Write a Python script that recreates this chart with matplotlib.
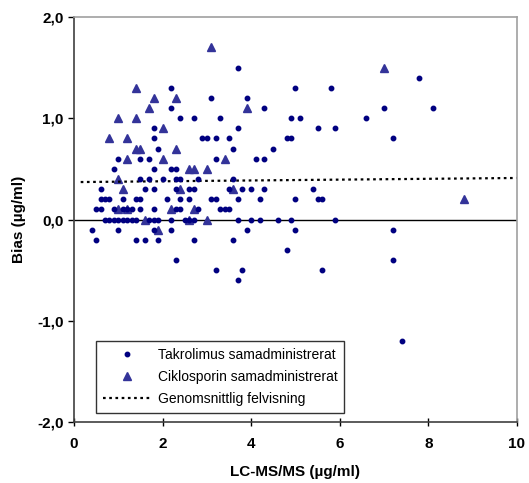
import matplotlib.pyplot as plt
import numpy as np
from matplotlib.ticker import FuncFormatter

plt.rcParams['font.family'] = ['Liberation Sans', 'DejaVu Sans']

# Takrolimus samadministrerat (LC-MS/MS, bias)
tak_x = [0.4, 0.5, 0.5, 0.6, 0.6, 0.6, 0.7, 0.7, 0.8, 0.8, 0.9, 0.9, 0.9,
         1.0, 1.0, 1.0, 1.1, 1.1, 1.1, 1.2, 1.2, 1.3, 1.3, 1.4, 1.4, 1.4,
         1.5, 1.5, 1.5, 1.5, 1.6, 1.6, 1.7, 1.7, 1.7, 1.8, 1.8, 1.8, 1.8,
         1.8, 1.8, 1.8, 1.9, 1.9, 1.9, 2.0, 2.1, 2.2, 2.2, 2.2, 2.2, 2.2,
         2.3, 2.3, 2.3, 2.3, 2.3, 2.4, 2.4, 2.4, 2.4, 2.5, 2.6, 2.6, 2.6,
         2.7, 2.7, 2.7, 2.7, 2.8, 2.8, 2.9, 3.0, 3.1, 3.1, 3.2, 3.2, 3.2,
         3.2, 3.3, 3.3, 3.4, 3.5, 3.5, 3.5, 3.6, 3.6, 3.6, 3.7, 3.7, 3.7,
         3.7, 3.7, 3.8, 3.8, 3.9, 3.9, 4.0, 4.0, 4.1, 4.2, 4.2, 4.3, 4.3,
         4.3, 4.5, 4.6, 4.8, 4.8, 4.9, 4.9, 4.9, 5.0, 5.0, 5.0, 5.1, 5.4,
         5.5, 5.5, 5.6, 5.6, 5.8, 5.9, 5.9, 6.6, 7.0, 7.2, 7.2, 7.2, 7.4,
         7.8, 8.1]
tak_y = [-0.1, -0.2, 0.1, 0.3, 0.2, 0.1, 0.2, 0.0, 0.2, 0.0, 0.5, 0.1, 0.0,
         0.6, -0.1, 0.0, 0.2, 0.1, 0.0, 0.0, 0.1, 0.1, 0.0, 0.2, -0.2, 0.0,
         0.4, 0.6, 0.2, 0.1, 0.3, -0.2, 0.6, 0.4, 0.0, 0.9, 0.8, 0.5, 0.3,
         0.1, 0.0, -0.1, 0.7, 0.0, -0.2, 0.4, 0.2, 1.3, 1.1, 0.5, 0.0, -0.1,
         0.5, 0.4, 0.3, 0.1, -0.4, 1.0, 0.4, 0.2, 0.1, 0.0, 0.2, 0.3, 0.0,
         1.0, 0.3, 0.0, -0.2, 0.4, 0.1, 0.8, 0.8, 1.2, 0.2, 0.8, 0.6, 0.2,
         -0.5, 1.0, 0.1, 0.1, 0.8, 0.3, 0.1, 0.7, 0.4, -0.2, 1.5, 0.9, 0.2,
         0.0, -0.6, 0.3, -0.5, 1.2, -0.1, 0.3, 0.0, 0.6, 0.2, 0.0, 1.1, 0.6,
         0.3, 0.7, 0.0, 0.8, -0.3, 1.0, 0.8, 0.0, 1.3, 0.2, -0.1, 1.0, 0.3,
         0.9, 0.2, 0.2, -0.5, 1.3, 0.9, 0.0, 1.0, 1.1, 0.8, -0.1, -0.4, -1.2,
         1.4, 1.1]

# Ciklosporin samadministrerat
cik_x = [3.1, 1.4, 1.8, 2.3, 1.7, 3.9, 1.0, 1.4, 2.0, 0.8, 1.2, 1.4, 1.5,
         2.3, 1.2, 2.0, 3.4, 2.6, 2.7, 3.0, 1.0, 1.1, 2.4, 3.6, 8.8, 1.0,
         1.2, 2.2, 2.7, 1.6, 2.6, 3.0, 1.9, 7.0]
cik_y = [1.7, 1.3, 1.2, 1.2, 1.1, 1.1, 1.0, 1.0, 0.9, 0.8, 0.8, 0.7, 0.7,
         0.7, 0.6, 0.6, 0.6, 0.5, 0.5, 0.5, 0.4, 0.3, 0.3, 0.3, 0.2, 0.1,
         0.1, 0.1, 0.1, 0.0, 0.0, 0.0, -0.1, 1.5]

# Genomsnittlig felvisning (svagt lutande linje)
mean_x = [0.15, 10.0]
mean_y = [0.37, 0.41]

fig = plt.figure(figsize=(5.29, 4.83), dpi=100)
ax = fig.add_axes([0.140, 0.126, 0.837, 0.839])

ax.axhline(0, color='black', linewidth=1.0, zorder=1)
ax.plot(tak_x, tak_y, 'o', color='#000080', markersize=3.2,
        linestyle='none', label='Takrolimus samadministrerat', zorder=3)
ax.plot(cik_x, cik_y, '^', color='#333399', markersize=6.3,
        linestyle='none', label='Ciklosporin samadministrerat', zorder=2)
ax.plot(mean_x, mean_y, color='black', linewidth=1.6,
        linestyle=(0, (1.2, 1.6)), label='Genomsnittlig felvisning', zorder=2)

ax.set_xlim(0, 10)
ax.set_ylim(-2, 2)
ax.set_xticks([0, 2, 4, 6, 8, 10])
ax.set_yticks([-2, -1, 0, 1, 2])
ax.yaxis.set_major_formatter(FuncFormatter(lambda v, p: f'{v:.1f}'.replace('.', ',')))

for lab in ax.get_xticklabels() + ax.get_yticklabels():
    lab.set_fontweight('bold')
    lab.set_fontsize(11)
ax.tick_params(axis='x', direction='inout', length=6, width=1, pad=8)
ax.tick_params(axis='y', direction='out', length=4, width=1)

ax.spines['left'].set_color('#404040')
ax.spines['bottom'].set_color('#404040')
ax.spines['top'].set_color('#a0a0a0')
ax.spines['right'].set_color('#a0a0a0')
for s in ax.spines.values():
    s.set_linewidth(1.2)

ax.set_xlabel('LC-MS/MS (µg/ml)', fontweight='bold', fontsize=11, labelpad=10)
ax.set_ylabel('Bias (µg/ml)', fontweight='bold', fontsize=11, labelpad=8)

leg = ax.legend(loc='lower left', bbox_to_anchor=(0.049, 0.022), borderaxespad=0,
                fontsize=10, frameon=True, fancybox=False, edgecolor='black',
                handlelength=3.5, handletextpad=0.45, labelspacing=0.6,
                borderpad=0.5)
leg.get_frame().set_linewidth(1.0)

fig.savefig('out.png', dpi=100)
